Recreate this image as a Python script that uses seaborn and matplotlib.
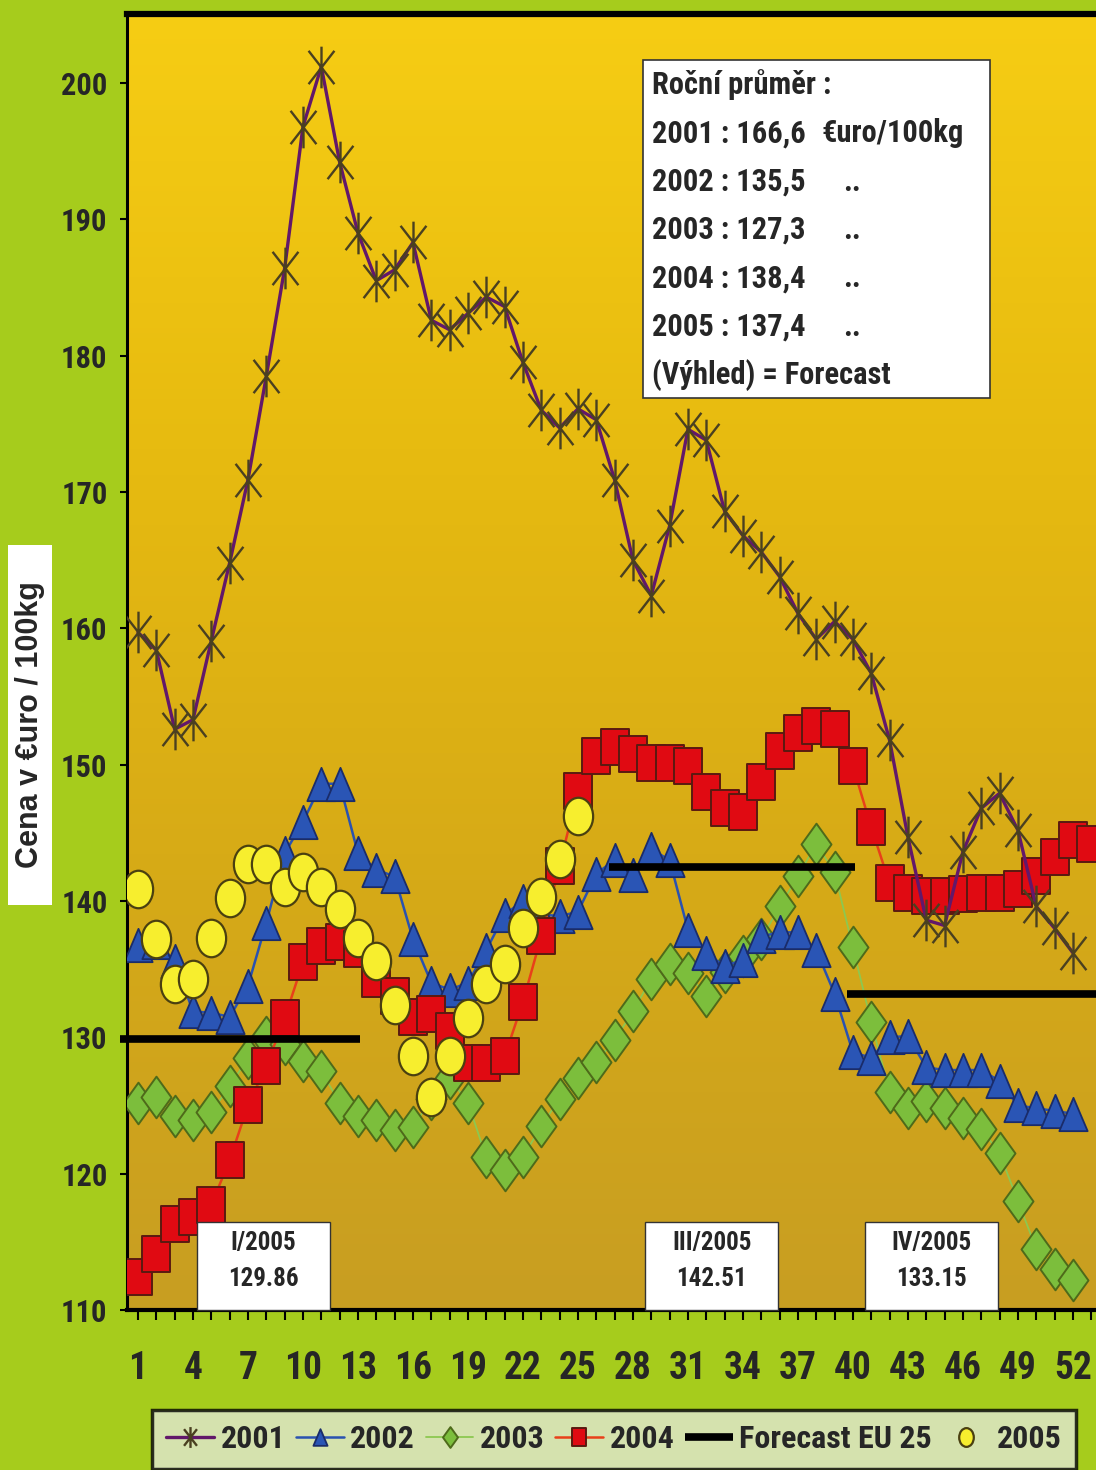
import matplotlib
matplotlib.use("Agg")
import matplotlib.pyplot as plt
import numpy as np
import seaborn as sns
from matplotlib import font_manager
from matplotlib.colors import LinearSegmentedColormap
from matplotlib.font_manager import FontProperties
from matplotlib.patches import Rectangle
from matplotlib.path import Path
from matplotlib.transforms import Affine2D

# weekly prices, Euro / 100 kg
weeks = list(range(1, 53))
weeks_2004 = list(range(1, 54))
weeks_2005 = list(range(1, 26))

price_2001 = [159.7, 158.4, 152.6, 153.3, 159.1, 164.8, 170.9, 178.5, 186.4, 196.8,
              201.2, 194.2, 189.0, 185.5, 186.3, 188.3, 182.6, 181.9, 183.1, 184.3,
              183.6, 179.5, 176.0, 174.7, 176.1, 175.3, 170.9, 165.0, 162.4, 167.5,
              174.6, 173.8, 168.6, 166.8, 165.6, 163.8, 161.1, 159.2, 160.5, 159.2,
              156.7, 151.8, 144.7, 138.6, 138.2, 143.6, 146.8, 147.9, 145.2, 139.6,
              138.0, 136.2]
price_2002 = [136.8, 137.0, 135.6, 131.9, 131.8, 131.5, 133.8, 138.4, 143.5, 145.8,
              148.6, 148.6, 143.5, 142.3, 141.8, 137.2, 134.0, 133.5, 134.0, 136.4,
              139.0, 140.0, 139.0, 138.9, 139.2, 142.0, 143.0, 141.9, 143.8, 143.0,
              137.9, 136.2, 135.2, 135.7, 137.4, 137.7, 137.7, 136.4, 133.2, 128.9,
              128.5, 130.0, 130.1, 127.8, 127.6, 127.6, 127.6, 126.8, 125.0, 124.8,
              124.6, 124.4]
price_2003 = [125.2, 125.6, 124.2, 123.9, 124.5, 126.4, 128.5, 130.0, 129.5, 128.3,
              127.5, 125.2, 124.2, 123.9, 123.2, 123.4, 125.5, 127.0, 125.2, 121.2,
              120.3, 121.2, 123.5, 125.5, 127.0, 128.2, 129.8, 131.9, 134.3, 135.4,
              134.7, 133.0, 134.8, 136.0, 137.2, 139.6, 141.8, 144.2, 142.1, 136.6,
              131.1, 126.0, 124.8, 125.3, 124.8, 124.1, 123.3, 121.5, 118.0, 114.5,
              113.0, 112.2]
price_2004 = [112.4, 114.1, 116.3, 116.8, 117.7, 121.0, 125.0, 127.9, 131.4, 135.5,
              136.7, 137.0, 136.5, 134.3, 133.0, 131.5, 131.7, 130.5, 128.1, 128.1,
              128.6, 132.6, 137.4, 142.6, 148.1, 150.6, 151.3, 150.8, 150.1, 150.1,
              149.9, 148.0, 146.8, 146.5, 148.7, 151.0, 152.3, 152.8, 152.6, 149.9,
              145.4, 141.3, 140.6, 140.4, 140.4, 140.5, 140.6, 140.6, 140.9, 141.8,
              143.2, 144.5, 144.2]
price_2005 = [140.9, 137.2, 133.9, 134.3, 137.3, 140.2, 142.7, 142.7, 141.0, 142.1,
              141.0, 139.4, 137.3, 135.6, 132.4, 128.6, 125.6, 128.6, 131.4, 133.9,
              135.4, 138.0, 140.3, 143.1, 146.2]

# forecast EU 25 per quarter of 2005
forecast_labels = ["I/2005", "III/2005", "IV/2005"]
forecast_values = [129.86, 142.51, 133.15]
forecast_start = [0.0, 26.7, 39.7]
forecast_end = [13.1, 40.1, 54.0]
quarter_box_center = [7.85, 32.3, 44.3]

summary_lines = ["Roční průměr :", "2001 : 166,6", "2002 : 135,5", "2003 : 127,3",
                 "2004 : 138,4", "2005 : 137,4", "(Výhled) = Forecast"]
summary_units = ["", "€uro/100kg", "..", "..", "..", "..", ""]

sns.set_style("ticks")
plt.rcParams["font.family"] = ["Liberation Sans", "DejaVu Sans"]


def pick_narrow():
    """Find a condensed bold face; fall back to shrunken Liberation Sans."""
    entries = font_manager.fontManager.ttflist
    names = {f.name for f in entries}
    for n in ["Liberation Sans Narrow", "Arial Narrow", "Roboto Condensed",
              "Noto Sans Condensed", "Open Sans Condensed", "DejaVu Sans Condensed"]:
        if n in names:
            return n, "normal", 1.0
    for f in entries:
        if f.stretch in ("condensed", "semi-condensed", "extra-condensed"):
            return f.name, f.stretch, 1.0
    return "Liberation Sans", "normal", 0.84


NARROW, STRETCH, SCALE = pick_narrow()


def nfont(size):
    return FontProperties(family=[NARROW, "DejaVu Sans"], weight="bold",
                          stretch=STRETCH, size=size * SCALE)


W, H = 1096, 1470
fig = plt.figure(figsize=(W / 100, H / 100), dpi=100, facecolor="#A6CC1C")
ax = fig.add_axes([127 / W, 1 - 1310 / H, 973 / W, 1296 / H])

# yellow -> mustard background gradient
bg = LinearSegmentedColormap.from_list("bg", ["#C89E22", "#D6AA17", "#E7BB10", "#F6CD14"])
ax.imshow(np.linspace(0, 1, 256).reshape(-1, 1), cmap=bg, origin="lower",
          extent=[0, 1, 0, 1], transform=ax.transAxes, aspect="auto", zorder=0)

# marker shapes (taller than wide, like the original)
star = Path([(0, 1), (0, -1), (-0.62, 0.8), (0.62, -0.8), (-0.62, -0.8), (0.62, 0.8)],
            [Path.MOVETO, Path.LINETO] * 3)
tri = Path([(0, 1), (-0.85, -1), (0.85, -1), (0, 1)], closed=True)
diamond = Path([(0, 1), (0.72, 0), (0, -1), (-0.72, 0), (0, 1)], closed=True)
square = Path([(-0.75, -1), (0.75, -1), (0.75, 1), (-0.75, 1), (-0.75, -1)], closed=True)
ellipse = Path.unit_circle().transformed(Affine2D().scale(0.78, 1))

sns.lineplot(x=weeks, y=price_2003, ax=ax, color="#8CC850", lw=1.3, marker=diamond,
             markersize=30, markerfacecolor="#7CBE3C", markeredgecolor="#4E6A1A",
             markeredgewidth=1.4, zorder=3, label="2003")
sns.lineplot(x=weeks, y=price_2002, ax=ax, color="#2A52B0", lw=1.8, marker=tri,
             markersize=24, markerfacecolor="#2A55B5", markeredgecolor="#1A2C6A",
             markeredgewidth=1.3, zorder=4, label="2002")
sns.lineplot(x=weeks_2004, y=price_2004, ax=ax, color="#E8401A", lw=1.8, marker=square,
             markersize=26, markerfacecolor="#E00A12", markeredgecolor="#5A1A10",
             markeredgewidth=1.4, zorder=5, label="2004")
sns.lineplot(x=weeks_2005, y=price_2005, ax=ax, color="#F5EE30", linestyle="none",
             marker=ellipse, markersize=27, markerfacecolor="#F7EE2E",
             markeredgecolor="#4A4010", markeredgewidth=1.6, zorder=7, label="2005")
sns.lineplot(x=weeks, y=price_2001, ax=ax, color="#62186A", lw=2.4, marker=star,
             markersize=30, markerfacecolor="none", markeredgecolor="#4A4020",
             markeredgewidth=1.7, zorder=8, label="2001")
ax.hlines(forecast_values, forecast_start, forecast_end, colors="black", lw=5.5,
          zorder=6, clip_on=False, label="Forecast EU 25")

ax.set_xlim(0.4, 53.48)
ax.set_ylim(110, 205.06)
ax.set_xticks(range(1, 53, 3))
ax.set_xticks(range(1, 54), minor=True)
ax.set_yticks(range(110, 201, 10))
ax.tick_params(axis="x", which="both", direction="out", length=7, width=1.5,
               color="black", bottom=True)
ax.tick_params(axis="x", which="major", pad=22)
ax.tick_params(axis="y", direction="out", length=5, width=1.5, color="black",
               left=True, pad=9)
for lab in ax.get_xticklabels():
    lab.set_fontproperties(nfont(27))
for lab in ax.get_yticklabels():
    lab.set_fontproperties(nfont(22))
ax.set_xlabel("")
ax.set_ylabel("")
ax.spines["right"].set_visible(False)
ax.spines["top"].set_linewidth(4.5)
ax.spines["left"].set_linewidth(2.2)
ax.spines["bottom"].set_linewidth(3)
for s in ["top", "left", "bottom"]:
    ax.spines[s].set_color("black")

# quarter forecast boxes
for lab, val, cx in zip(forecast_labels, forecast_values, quarter_box_center):
    ax.add_patch(Rectangle((cx - 3.63, 110), 7.26, 6.45, facecolor="white",
                           edgecolor="#333333", lw=1, zorder=10, clip_on=False))
    ax.text(cx, 114.9, lab, ha="center", va="center", fontproperties=nfont(18), zorder=11)
    ax.text(cx, 112.3, f"{val:.2f}", ha="center", va="center",
            fontproperties=nfont(18), zorder=11)

# annual average box
fig.add_artist(Rectangle((643 / W, 1 - 398 / H), 347 / W, 338 / H, transform=fig.transFigure,
                         facecolor="white", edgecolor="#333333", lw=1.2, zorder=5))
for i, (txt, unit) in enumerate(zip(summary_lines, summary_units)):
    y = 1 - (85 + 48.3 * i) / H
    fig.text(652 / W, y, txt, ha="left", va="center", fontproperties=nfont(22), zorder=6)
    if unit.startswith("€"):
        fig.text(964 / W, y, unit, ha="right", va="center", fontproperties=nfont(22), zorder=6)
    elif unit:
        fig.text(852 / W, y, unit, ha="center", va="center", fontproperties=nfont(22), zorder=6)

# y axis title on white box
fig.add_artist(Rectangle((8 / W, 1 - 905 / H), 44 / W, 360 / H, transform=fig.transFigure,
                         facecolor="white", edgecolor="none", zorder=5))
fig.text(30 / W, 1 - 725 / H, "Cena v €uro / 100kg", rotation=90, ha="center",
         va="center", fontsize=22, fontweight="bold", zorder=6)

# legend
if ax.get_legend() is not None:
    ax.get_legend().remove()
handles, labels = ax.get_legend_handles_labels()
order = ["2001", "2002", "2003", "2004", "Forecast EU 25", "2005"]
hmap = dict(zip(labels, handles))
leg = fig.legend([hmap[k] for k in order], order, loc="upper center",
                 bbox_to_anchor=(614 / W, 1 - 1410 / H), ncol=6, frameon=True,
                 markerscale=0.5, handlelength=1.5, handletextpad=0.2,
                 columnspacing=0.33, borderpad=0.45, borderaxespad=0,
                 fancybox=False, prop=nfont(23))
leg.get_frame().set_facecolor("#E2E8D4")
leg.get_frame().set_edgecolor("black")
leg.get_frame().set_linewidth(2.5)

fig.savefig("out.png", dpi=100, facecolor=fig.get_facecolor())
